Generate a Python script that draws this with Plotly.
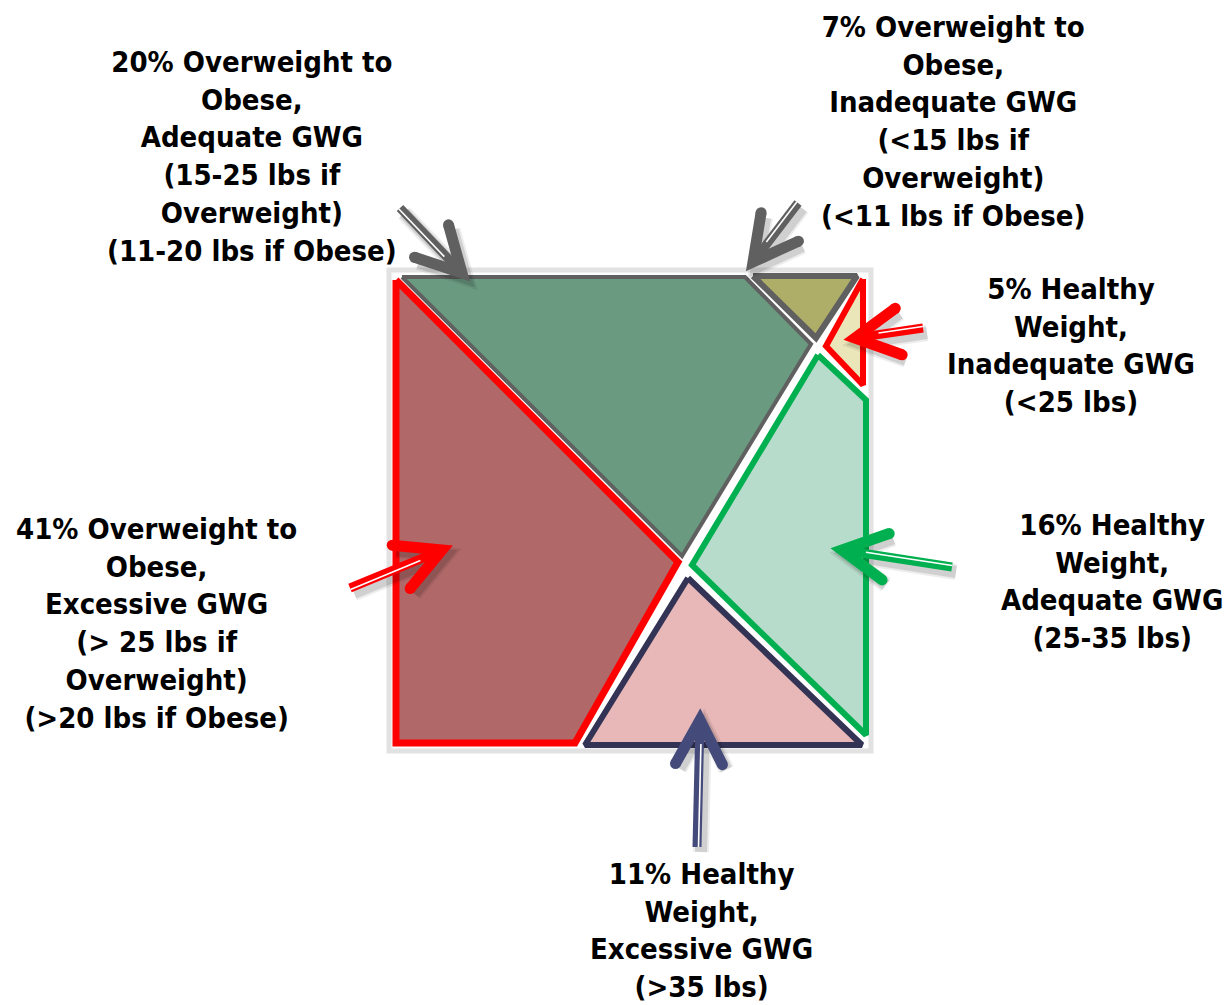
import numpy as np
import plotly.graph_objects as go

# ---------------- data ----------------
pct = [41, 20, 7, 5, 16, 11]
groups = ["Overweight to<br>Obese,", "Overweight to<br>Obese,", "Overweight to<br>Obese,",
          "Healthy<br>Weight,", "Healthy<br>Weight,", "Healthy<br>Weight,"]
gwg = ["Excessive GWG", "Adequate GWG", "Inadequate GWG",
       "Inadequate GWG", "Adequate GWG", "Excessive GWG"]
ranges = ["(> 25 lbs if<br>Overweight)<br>(>20 lbs if Obese)",
          "(15-25 lbs if<br>Overweight)<br>(11-20 lbs if Obese)",
          "(<15 lbs if<br>Overweight)<br>(<11 lbs if Obese)",
          "(<25 lbs)", "(25-35 lbs)", "(>35 lbs)"]

# region outlines (pixel-like coordinates on the diagram canvas)
poly_x = [[396, 678, 575, 396],
          [402, 745, 811, 682],
          [753, 857, 816],
          [863, 826, 863],
          [818, 866, 866, 692],
          [688, 862, 585]]
poly_y = [[280, 562, 743, 743],
          [277, 277, 344, 556],
          [276, 276, 338],
          [279, 346, 385],
          [355, 400, 735, 565],
          [578, 745, 745]]
fills = ["#B06868", "#6A9A80", "#AEAE68", "#EAE6BA", "#B8DCCC", "#E8B8B8"]
edges = ["#FF0000", "#606060", "#606060", "#FF0000", "#00B050", "#333355"]
edge_w = [7, 4, 6, 6, 6, 6]

label_x = [156, 252, 953, 1071, 1112, 701]
label_y = [623, 156, 121, 345, 581, 930]

arrow_tail = [(350, 588), (400, 208), (798, 203), (923, 328), (952, 567), (697, 847)]
arrow_tip = [(442, 550), (462, 273), (753, 262), (855, 338), (842, 550), (700, 720)]
arrow_col = ["#FF0000", "#606060", "#606060", "#FF0000", "#00B050", "#444A7A"]

# ---------------- figure ----------------
fig = go.Figure()
shapes = []

# backing card of the diagram
shapes.append(dict(type="rect", x0=389, y0=270, x1=871, y1=751, xref="x", yref="y",
                   line=dict(color="#E2E2E2", width=5), fillcolor="white", layer="below"))

for px, py, fc, ec, w in zip(poly_x, poly_y, fills, edges, edge_w):
    fig.add_trace(go.Scatter(x=px + [px[0]], y=py + [py[0]], mode="lines", fill="toself",
                             fillcolor=fc, line=dict(color=ec, width=w),
                             hoverinfo="skip", showlegend=False))


def arrow_paths(tail, tip, length=50, ang=28):
    t = np.array(tail, float); p = np.array(tip, float)
    d = (p - t) / np.linalg.norm(p - t)
    out = []
    for s in (1, -1):
        a = np.radians(ang) * s
        r = np.array([[np.cos(a), -np.sin(a)], [np.sin(a), np.cos(a)]])
        out.append(p - length * (r @ d))
    return t, p, d, out


W = 11
for tail, tip, col in zip(arrow_tail, arrow_tip, arrow_col):
    t, p, d, (h1, h2) = arrow_paths(tail, tip)
    n = np.array([-d[1], d[0]])
    o = np.array([4, 5])
    # soft shadow
    for wsh, al in ((16, 0.07), (12, 0.12)):
        shapes.append(dict(type="path", xref="x", yref="y",
                           path=f"M{t[0]+o[0]},{t[1]+o[1]} L{p[0]-6*d[0]+o[0]},{p[1]-6*d[1]+o[1]} "
                                f"M{h1[0]+o[0]},{h1[1]+o[1]} L{p[0]+o[0]},{p[1]+o[1]} L{h2[0]+o[0]},{h2[1]+o[1]}",
                           line=dict(color=f"rgba(0,0,0,{al})", width=wsh)))
    shapes.append(dict(type="path", xref="x", yref="y",
                       path=f"M{t[0]},{t[1]} L{p[0]-8*d[0]},{p[1]-8*d[1]}",
                       line=dict(color=col, width=9)))
    shapes.append(dict(type="path", xref="x", yref="y",
                       path=f"M{h1[0]},{h1[1]} L{p[0]},{p[1]} L{h2[0]},{h2[1]}",
                       line=dict(color=col, width=W)))
    for h in (h1, h2):
        shapes.append(dict(type="circle", xref="x", yref="y",
                           x0=h[0] - W / 2, x1=h[0] + W / 2, y0=h[1] - W / 2, y1=h[1] + W / 2,
                           fillcolor=col, line=dict(width=0)))
    # white inner line of the double shaft
    a0 = t + n * 1.5
    a1 = p - 24 * d + n * 1.5
    shapes.append(dict(type="path", xref="x", yref="y",
                       path=f"M{a0[0]},{a0[1]} L{a1[0]},{a1[1]}",
                       line=dict(color="white", width=1.6)))

annotations = []
for v, g, q, r, x, y in zip(pct, groups, gwg, ranges, label_x, label_y):
    txt = f"<b>{v}% {g}<br>{q}<br>{r}</b>"
    annotations.append(dict(x=x, y=y, xref="x", yref="y", text=txt, showarrow=False,
                            xanchor="center", yanchor="middle", align="center",
                            font=dict(family="DejaVu Sans Condensed", size=29, color="black")))

fig.update_layout(
    width=1231, height=1005, margin=dict(l=0, r=0, t=0, b=0),
    paper_bgcolor="white", plot_bgcolor="white",
    xaxis=dict(range=[0, 1231], visible=False, fixedrange=True),
    yaxis=dict(range=[1005, 0], visible=False, fixedrange=True),
    shapes=shapes, annotations=annotations, showlegend=False,
)

fig.write_html("out.html", config={"displayModeBar": False},
               post_script="document.body.style.margin='0';")
